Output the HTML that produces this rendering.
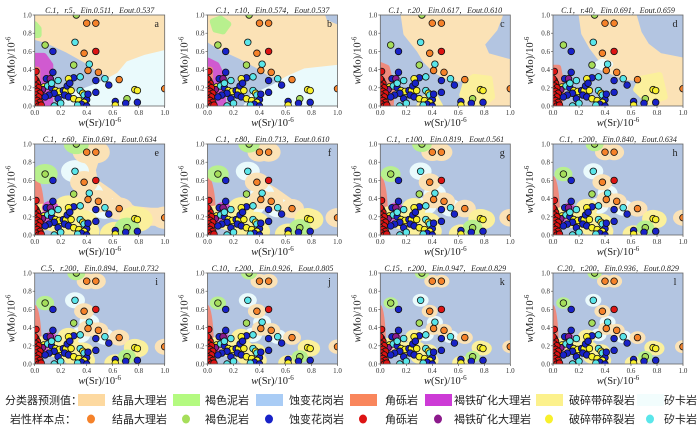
<!DOCTYPE html>
<html><head><meta charset="utf-8">
<style>
html,body{margin:0;padding:0;background:#fff;}
body{width:700px;height:428px;overflow:hidden;position:relative;font-family:"Liberation Serif","Noto Serif CJK SC",serif;}
svg{position:absolute;left:0;top:0;}
.lg{font-family:"Liberation Sans","Noto Sans CJK SC",sans-serif;font-size:11px;fill:#222;}
</style></head>
<body>
<svg id="chart" width="700" height="428"></svg>
<script>
// ---- data ----
const ptX = [0.32,0.40,0.47,0.08,0.31,0.14,0.38,0.47,0.30,0.42,0.14,0.49,0.41,0.65,0.54,0.47,0.57,0.35,0.30,0.26,0.09,0.12,0.18,0.07,0.05,0.10,0.13,0.16,0.19,0.22,0.24,0.25,0.27,0.23,0.26,0.28,0.35,0.37,0.38,0.40,0.41,0.30,0.34,0.38,0.36,0.33,0.18,0.20,0.15,0.11,0.08,0.06,0.13,0.47,0.40,0.77,0.79,1.00,0.71,0.62,0.70,0.79,0.62,0.15,
0.01,0.01,0.02,0.01,0.03,0.00,0.02,0.04,0.01,0.03,0.00,0.02,0.04,0.01,0.03,0.00,0.05];
const ptY = [1.00,0.91,0.91,0.67,0.70,0.60,0.58,0.60,0.45,0.46,0.37,0.37,0.39,0.29,0.30,0.28,0.23,0.32,0.31,0.30,0.30,0.30,0.28,0.21,0.18,0.22,0.20,0.17,0.16,0.17,0.17,0.22,0.25,0.12,0.10,0.17,0.17,0.14,0.12,0.07,0.13,0.08,0.06,0.04,0.02,0.01,0.08,0.03,0.14,0.12,0.10,0.18,0.25,0.15,0.00,0.18,0.17,0.19,0.08,0.05,0.03,0.04,0.01,0.00,
0.38,0.28,0.25,0.22,0.20,0.18,0.16,0.14,0.12,0.10,0.08,0.06,0.04,0.02,0.00,0.30,0.01];
const ptCls = ["G","O","O","G","C","B","O","R","G","C","B","O","O","O","C","B","B","C","B","Y","B","M","C","Y","Y","C","B","Y","Y","B","Y","B","B","B","B","Y","C","Y","C","B","B","Y","Y","Y","B","C","B","C","B","B","B","M","C","B","B","Y","Y","O","G","B","B","B","Y","C",
"R","R","R","R","R","R","R","R","R","R","R","R","R","R","R","R","R"];
const titles = ["C.1，r.5，Ein.0.511，Eout.0.537","C.1，r.10，Ein.0.574，Eout.0.537","C.1，r.20，Ein.0.617，Eout.0.610","C.1，r.40，Ein.0.691，Eout.0.659",
"C.1，r.60，Ein.0.691，Eout.0.634","C.1，r.80，Ein.0.713，Eout.0.610","C.1，r.100，Ein.0.819，Eout.0.561","C.1，r.200，Ein.0.840，Eout.0.634",
"C.5，r.200，Ein.0.894，Eout.0.732","C.10，r.200，Ein.0.926，Eout.0.805","C.15，r.200，Ein.0.947，Eout.0.829","C.20，r.200，Ein.0.936，Eout.0.829"];
const letters = ["a","b","c","d","e","f","g","h","i","j","k","l"];
const ticks = [0,0.2,0.4,0.6,0.8,1.0];
const tickLabels = ["0.0","0.2","0.4","0.6","0.8","1.0"];
const blobR = [0,0,0,0,14,12,11,10,10,9,8,8];

const regionCol = {O:"#fbe2b6",G:"#b8f08e",B:"#b3c5e1",R:"#ee8a7c",M:"#d05ad0",Y:"#fbf09c",C:"#eafafc"};
const ptCol = {O:"#f5822a",G:"#a6de5a",B:"#1822c8",R:"#dd1414",M:"#8c1a8c",Y:"#f8f02c",C:"#5ae6ea"};

const regions = [
 [["O",[[0,1],[1,1],[1,.6],[.85,.55],[.72,.48],[.65,.36],[.6,.34],[.5,.4],[.4,.5],[.25,.62],[.1,.72],[0,.76]]],
  ["C",[[.22,0],[.3,.12],[.45,.2],[.55,.26],[.65,.34],[.72,.46],[.85,.53],[1,.58],[1,0]]],
  ["M",[[0,0],[0,.55],[.07,.55],[.12,.45],[.12,0]]],
  ["G",[[0,.78],[.03,.78],[.03,.85],[0,.9]]],
  ["R",[[0,0],[0,.4],[.02,.4],[.02,0]]]],
 [["O",[[.02,1],[.88,1],[.9,.92],[1,.86],[1,.42],[.85,.4],[.7,.33],[.6,.32],[.48,.36],[.38,.45],[.25,.55],[.1,.65],[.02,.72]]],
  ["C",[[.3,0],[.35,.1],[.5,.2],[.62,.3],[.75,.38],[1,.42],[1,0]]],
  ["M",[[0,0],[0,.5],[.07,.45],[.12,.3],[.12,0]]],
  ["G",[[.04,.93],[.1,.96],[.16,.9],[.12,.82],[.06,.84]]],
  ["R",[[0,0],[0,.4],[.02,.4],[.02,0]]]],
 [["O",[[.18,1],[.92,1],[.88,.85],[.78,.68],[.82,.55],[1,.48],[1,0],[.8,0],[.86,.1],[.85,.33],[.7,.32],[.6,.3],[.5,.33],[.42,.4],[.35,.5],[.3,.62],[.2,.8]]],
  ["Y",[[.63,.12],[.66,.26],[.72,.32],[.84,.3],[.86,.1],[.78,0],[.68,0]]],
  ["Y",[[.3,0],[.33,.08],[.42,.1],[.46,0]]],
  ["R",[[0,0],[0,.45],[.05,.42],[.09,.2],[.08,0]]]],
 [["O",[[.22,1],[.62,1],[.66,.8],[.72,.66],[.82,.55],[1,.5],[1,0],[.82,0],[.86,.12],[.85,.32],[.7,.3],[.55,.32],[.45,.38],[.38,.5],[.3,.65],[.24,.8]]],
  ["Y",[[.64,.18],[.68,.3],[.82,.34],[.86,.1],[.74,.04]]],
  ["C",[[.33,.45],[.38,.49],[.44,.46],[.4,.41]]],
  ["R",[[0,0],[0,.42],[.04,.42],[.07,.2],[.05,0]]]]
];

const colX = [34.7,207.5,380.3,553];
const rowTop = [15,144,273];
const PW = 130, PH = 91;
const NS = "http://www.w3.org/2000/svg";
const svg = document.getElementById("chart");
function mk(tag, attrs, parent){ const e=document.createElementNS(NS,tag); for(const k in attrs) e.setAttribute(k,attrs[k]); (parent||svg).appendChild(e); return e; }

function blobAllowed(i){
  const c = ptCls[i];
  if(c==="G") return (ptY[i]>0.6) || (ptX[i]>0.6);
  if(c==="C") return ptY[i]>=0.3 && ptX[i]>0.3;
  return true;
}

for(let p=0;p<12;p++){
  const x0 = colX[p%4], top = rowTop[Math.floor(p/4)];
  const sx = v => x0 + v*PW;
  const sy = v => top + PH - v*PH;
  const g = mk("g",{});
  
  
  const cp = mk("clipPath",{id:"cp"+p},g);
  mk("rect",{x:x0,y:top,width:PW,height:PH},cp);
  const plot = mk("g",{"clip-path":"url(#cp"+p+")"},g);
  const bg = mk("rect",{x:x0,y:top,width:PW,height:PH,fill:regionCol.B},plot);
  
  
  if(p<4){
    regions[p].forEach(r=>{
      const d = r[1].map((q,i)=>(i?"L":"M")+sx(q[0]).toFixed(1)+","+sy(q[1]).toFixed(1)).join("")+"Z";
      const path = mk("path",{d:d,fill:regionCol[r[0]],"stroke":regionCol[r[0]],"stroke-width":6,"stroke-linejoin":"round"},plot);
      
      
    });
    const red = mk("rect",{x:sx(0),y:sy(0.4),width:3,height:sy(0)-sy(0.4),fill:regionCol.R},plot);
    
    
  } else {
    if(p===4){
      const band=[[.36,.93],[.44,.9],[.4,.72],[.42,.55],[.55,.42],[.65,.3],[.75,.22],[.9,.2],[1,.2]];
      const d = band.map((q,i)=>(i?"L":"M")+sx(q[0])+","+sy(q[1])).join("");
      const bp = mk("path",{d:d,fill:"none",stroke:regionCol.O,"stroke-width":18,"stroke-linecap":"round","stroke-linejoin":"round"},plot);
      
      
    }
    if(p===5){
      const band=[[.38,.55],[.5,.45],[.62,.33]];
      const d = band.map((q,i)=>(i?"L":"M")+sx(q[0])+","+sy(q[1])).join("");
      const bp = mk("path",{d:d,fill:"none",stroke:regionCol.O,"stroke-width":14,"stroke-linecap":"round"},plot);
      
      
    }
    const rr = mk("ellipse",{cx:sx(0),cy:sy(0.2),rx:blobR[p]*0.7,ry:sy(0)-sy(0.45),fill:regionCol.R},plot);
    
    
    const order=["C","O","Y","G","M"];
    order.forEach(c=>{
      for(let i=0;i<ptX.length;i++){
        if(ptCls[i]!==c || !blobAllowed(i)) continue;
        const k = c==="Y"?1.1:(c==="M"?0.6:(c==="G"?0.9:1));
        const e = mk("ellipse",{cx:sx(ptX[i]),cy:sy(ptY[i]),rx:blobR[p]*k,ry:blobR[p]*0.8*k,fill:regionCol[c]},plot);
        
        
      }
    });
  }
  for(let i=0;i<ptX.length;i++){
    const c = mk("circle",{cx:sx(ptX[i]),cy:sy(ptY[i]),r:3.3,fill:ptCol[ptCls[i]],stroke:"#111","stroke-width":0.8},plot);
    
    
  }
  mk("rect",{x:x0,y:top,width:PW,height:PH,fill:"none",stroke:"#666","stroke-width":0.8},g);
  ticks.forEach((t,i)=>{
    mk("line",{x1:sx(t),x2:sx(t),y1:sy(0),y2:sy(0)+2,stroke:"#444","stroke-width":0.6},g);
    mk("line",{x1:x0-2,x2:x0,y1:sy(t),y2:sy(t),stroke:"#444","stroke-width":0.6},g);
    const tx = mk("text",{x:sx(t),y:sy(0)+9,"font-size":7,"text-anchor":"middle",fill:"#333"},g);
    tx.textContent = tickLabels[i];
    
    
    const ty = mk("text",{x:x0-3,y:sy(t)+2.5,"font-size":7,"text-anchor":"end",fill:"#333"},g);
    ty.textContent = tickLabels[i];
    
    
  });
  const tt = mk("text",{x:x0+PW/2,y:top-2,"font-size":8,"font-style":"italic","text-anchor":"middle",fill:"#222"},g);
  tt.textContent = titles[p];
  
  
  const lt = mk("text",{x:x0+PW-8,y:top+12,"font-size":10,"text-anchor":"middle",fill:"#222"},g);
  lt.textContent = letters[p];
  
  
  const xl = mk("text",{x:x0+PW/2,y:top+PH+20,"font-size":10.5,"text-anchor":"middle",fill:"#222"},g);
  xl.innerHTML = '<tspan font-style="italic">w</tspan>(Sr)/10<tspan font-size="7" dy="-4">-6</tspan>';
  
  
  const yl = mk("text",{x:0,y:0,"font-size":10.5,"text-anchor":"middle",fill:"#222",transform:"translate("+(x0-20)+","+(top+PH/2)+") rotate(-90)"},g);
  yl.innerHTML = '<tspan font-style="italic">w</tspan>(Mo)/10<tspan font-size="7" dy="-4">-6</tspan>';
  
  
}

const legNames = ["结晶大理岩","褐色泥岩","蚀变花岗岩","角砾岩","褐铁矿化大理岩","破碎带碎裂岩","矽卡岩"];
const legCls = ["O","G","B","R","M","Y","C"];
const swX = [78,173,256,350,425,536,637];
const txX = [112,205,289,385,454,569,664];
const regBox = {O:"#fdd9a0",G:"#b4fa80",B:"#a9ccf5",R:"#f9865c",M:"#cd3bd6",Y:"#fcf18c",C:"#f2fdfd"};
function lt(x,y,s,name){ const t=mk("text",{x:x,y:y,class:"lg"}); t.textContent=s;   return t; }
lt(5,404,"分类器预测值：","legend-title-regions");
lt(10,423,"岩性样本点：","legend-title-points");
for(let i=0;i<7;i++){
  const r = mk("rect",{x:swX[i],y:394,width:27,height:12,fill:regBox[legCls[i]]});
  
  
  lt(txX[i],404,legNames[i],"legend-entry");
  const c = mk("ellipse",{cx:swX[i]+13,cy:419,rx:4,ry:4.5,fill:ptCol[legCls[i]]});
  
  
  lt(txX[i],423,legNames[i],"legend-entry");
}
</script>
</body></html>
